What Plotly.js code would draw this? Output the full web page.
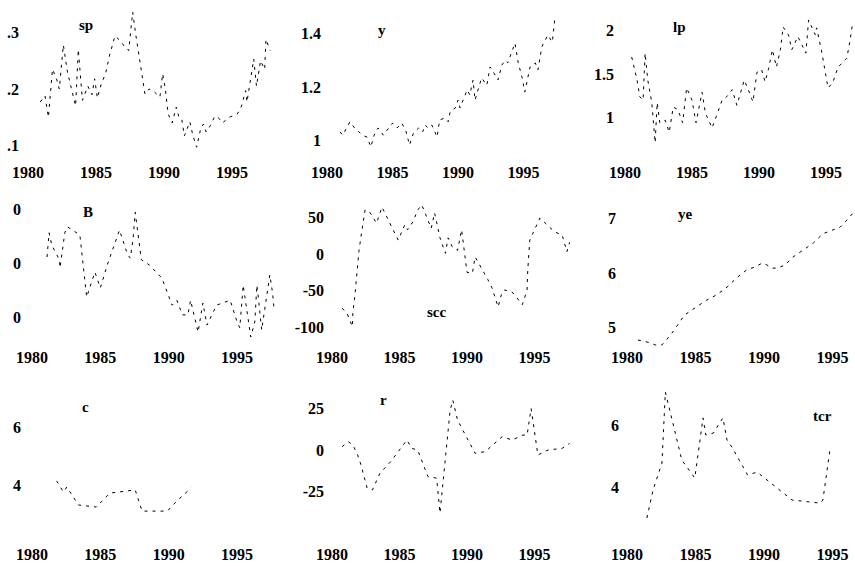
<!DOCTYPE html>
<html>
<head>
<meta charset="utf-8">
<script src="https://cdn.plot.ly/plotly-3.0.1.min.js"></script>
<style>html,body{margin:0;padding:0;background:#fff;}#chart{width:855px;height:566px;}</style>
</head>
<body>
<div id="chart"></div>
<script>
// ---------- data ----------
const seriesNames = ["sp", "y", "lp", "B", "scc", "ye", "c", "r", "tcr"];
const yearTicks = [1980, 1985, 1990, 1995];

const spYears = [1980.9,1981.25,1981.5,1981.8,1982.1,1982.3,1982.6,1982.9,1983.2,1983.5,1983.7,1984.0,1984.4,1984.7,1984.9,1985.1,1985.4,1985.7,1986.0,1986.4,1986.8,1987.1,1987.4,1987.6,1987.7,1987.9,1988.2,1988.6,1988.9,1989.2,1989.5,1989.7,1989.9,1990.1,1990.3,1990.6,1990.9,1991.1,1991.3,1991.5,1991.9,1992.1,1992.4,1992.7,1992.9,1993.1,1993.4,1993.7,1993.9,1994.3,1994.8,1995.4,1995.7,1996.0,1996.1,1996.4,1996.6,1996.8,1997.1,1997.4,1997.5,1997.8];
const spValues = [0.177,0.188,0.15,0.235,0.218,0.2,0.278,0.23,0.2,0.17,0.27,0.18,0.205,0.19,0.218,0.184,0.21,0.227,0.26,0.294,0.285,0.275,0.268,0.31,0.336,0.3,0.253,0.191,0.2,0.197,0.19,0.186,0.227,0.2,0.156,0.14,0.168,0.15,0.147,0.117,0.142,0.12,0.097,0.13,0.138,0.124,0.135,0.15,0.152,0.14,0.15,0.156,0.17,0.197,0.177,0.22,0.253,0.205,0.25,0.235,0.288,0.268];

const yYears = [1981.0,1981.2,1981.75,1982.1,1982.7,1983.05,1983.35,1983.6,1983.9,1984.3,1985.0,1985.35,1985.7,1986.0,1986.3,1986.6,1987.0,1987.3,1987.5,1987.7,1988.0,1988.4,1988.6,1989.0,1989.25,1989.4,1989.8,1990.0,1990.15,1990.7,1990.9,1991.15,1991.3,1991.8,1992.2,1992.45,1992.7,1993.05,1993.35,1993.6,1993.8,1994.1,1994.35,1994.6,1994.9,1995.1,1995.5,1995.9,1996.1,1996.4,1996.85,1997.2,1997.4];
const yValues = [1.032,1.02,1.07,1.047,1.02,1.013,0.976,1.02,1.047,1.02,1.065,1.047,1.065,1.04,0.983,1.028,1.047,1.032,1.058,1.047,1.058,1.013,1.077,1.084,1.07,1.107,1.122,1.151,1.122,1.189,1.17,1.226,1.151,1.234,1.207,1.275,1.256,1.226,1.282,1.3,1.29,1.331,1.364,1.29,1.234,1.181,1.275,1.29,1.264,1.35,1.394,1.368,1.458];

const lpYears = [1980.5,1980.75,1980.9,1981.1,1981.35,1981.5,1981.7,1982.0,1982.25,1982.4,1982.6,1983.0,1983.3,1983.6,1983.95,1984.3,1984.6,1985.0,1985.3,1985.75,1986.0,1986.5,1986.9,1987.25,1987.6,1988.0,1988.35,1988.7,1988.9,1989.2,1989.55,1989.85,1990.2,1990.45,1990.7,1991.0,1991.3,1991.6,1991.8,1992.2,1992.45,1992.9,1993.5,1993.7,1994.2,1994.3,1994.7,1995.15,1995.5,1995.9,1996.55,1996.8,1997.0];
const lpValues = [1.695,1.52,1.43,1.24,1.2,1.74,1.43,1.17,0.71,1.17,0.94,0.97,0.83,1.12,1.09,0.94,1.34,1.2,0.94,1.29,1.05,0.88,1.05,1.2,1.24,1.32,1.14,1.32,1.43,1.32,1.18,1.52,1.55,1.41,1.55,1.78,1.58,1.78,2.04,1.95,1.78,1.93,1.74,2.12,1.95,2.03,1.74,1.34,1.4,1.58,1.68,1.89,2.1];

const bYears = [1981.1,1981.25,1981.45,1982.0,1982.05,1982.4,1982.6,1983.5,1984.0,1984.6,1985.0,1985.5,1986.4,1986.7,1987.0,1987.2,1987.4,1987.55,1988.0,1988.6,1989.5,1990.25,1990.6,1991.0,1991.4,1991.6,1992.15,1992.5,1992.7,1992.8,1993.5,1994.5,1995.0,1995.2,1995.45,1996.0,1996.3,1996.45,1996.6,1996.8,1997.4,1997.6,1997.7];
const bValues = [0.11,0.56,0.33,0.06,-0.09,0.56,0.67,0.52,-0.63,-0.17,-0.46,-0.04,0.61,0.37,0.15,0.09,0.46,0.94,0.06,-0.04,-0.28,-0.78,-0.69,-0.96,-0.96,-0.69,-1.28,-0.74,-1.02,-1.15,-0.78,-0.69,-1.09,-1.2,-0.41,-1.37,-1.09,-0.41,-0.74,-1.24,-0.22,-0.56,-0.83];

const sccYears = [1980.75,1981.1,1981.5,1981.55,1981.7,1981.85,1982.0,1982.2,1982.45,1982.8,1983.3,1983.7,1984.9,1985.4,1985.6,1986.0,1986.35,1986.65,1987.0,1987.35,1987.6,1988.0,1988.4,1988.6,1988.9,1989.3,1989.6,1990.0,1990.4,1990.6,1991.55,1991.85,1992.3,1992.6,1992.8,1993.35,1994.1,1994.45,1994.5,1994.65,1995.4,1996.5,1997.05,1997.4,1997.6];
const sccValues = [-74,-80,-99,-79,-56,-19,5,30,60,57,42,64,19,40,33,44,60,67,50,35,56,22,1,22,10,5,33,-25,-26,-4,-35,-46,-72,-52,-49,-52,-69,-49,-22,19,49,30,26,3,16];

const yeYears = [1980.8,1981.7,1982.05,1982.55,1983.0,1983.35,1984.2,1984.95,1985.8,1986.55,1987.3,1988.0,1988.75,1989.35,1989.85,1990.2,1990.6,1991.0,1991.55,1992.1,1992.85,1993.6,1994.3,1995.05,1995.55,1996.05,1996.5];
const yeValues = [4.77,4.72,4.68,4.68,4.81,4.92,5.23,5.36,5.5,5.6,5.74,5.91,6.06,6.11,6.18,6.15,6.09,6.09,6.15,6.29,6.42,6.55,6.72,6.79,6.84,6.97,7.1];

const cYears = [1981.8,1982.3,1982.55,1983.4,1984.7,1985.7,1987.55,1988.05,1989.9,1990.6,1991.65];
const cValues = [4.14,3.76,3.93,3.31,3.24,3.72,3.83,3.1,3.1,3.45,3.9];

const rYears = [1980.75,1981.2,1981.55,1981.9,1982.15,1982.6,1983.0,1983.55,1984.35,1985.55,1985.9,1986.35,1987.1,1987.75,1988.0,1988.5,1988.75,1988.95,1989.3,1990.6,1991.35,1992.6,1993.35,1994.15,1994.45,1994.75,1995.25,1996.0,1997.05,1997.6];
const rValues = [2,5,3,-3,-9,-23,-24,-14,-7,6,1,0,-16,-17,-38,2,24,30,18,-2,-1,8,6,9,9,25,-3,0,1,4];

const tcrYears = [1981.45,1981.9,1982.55,1982.8,1984.0,1984.95,1985.3,1985.55,1985.75,1986.3,1987.0,1987.3,1987.65,1988.8,1989.5,1991.4,1992.05,1994.1,1994.3,1994.8];
const tcrValues = [3.0,3.9,4.77,7.06,4.87,4.29,5.42,6.23,5.68,5.74,6.23,5.52,5.29,4.39,4.48,3.81,3.58,3.48,3.58,5.16];

const spTickVals = [0.1, 0.2, 0.3];   const spTickText = [".1", ".2", ".3"];
const yTickVals = [1, 1.2, 1.4];      const yTickText = ["1", "1.2", "1.4"];
const lpTickVals = [1, 1.5, 2];       const lpTickText = ["1", "1.5", "2"];
const bTickVals = [-1, 0, 1];         const bTickText = ["0", "0", "0"];
const sccTickVals = [-100, -50, 0, 50]; const sccTickText = ["-100", "-50", "0", "50"];
const yeTickVals = [5, 6, 7];         const yeTickText = ["5", "6", "7"];
const cTickVals = [4, 6];             const cTickText = ["4", "6"];
const rTickVals = [-25, 0, 25];       const rTickText = ["-25", "0", "25"];
const tcrTickVals = [4, 6];           const tcrTickText = ["4", "6"];

// ---------- layout (pixel geometry) ----------
const W = 855, H = 566;
const panels = [
  {xs:spYears,  ys:spValues,  tv:spTickVals,  tt:spTickText,  px:[28,13.6,20,280],   py:[0.2,89,565,5,161],     lab:[86,25]},
  {xs:yYears,   ys:yValues,   tv:yTickVals,   tt:yTickText,   px:[327,13.1,322,570], py:[1.2,87,267.5,5,161],   lab:[382,30]},
  {xs:lpYears,  ys:lpValues,  tv:lpTickVals,  tt:lpTickText,  px:[625,13.4,615,855], py:[1.5,74,87,5,161],      lab:[679,27]},
  {xs:bYears,   ys:bValues,   tv:bTickVals,   tt:bTickText,   px:[32,13.67,22,282],  py:[0,263,54,190,346],     lab:[88,212]},
  {xs:sccYears, ys:sccValues, tv:sccTickVals, tt:sccTickText, px:[332,13.5,325,572], py:[0,254,0.734,190,346],  lab:[437,312]},
  {xs:yeYears,  ys:yeValues,  tv:yeTickVals,  tt:yeTickText,  px:[627,13.7,617,855], py:[6,273,54.5,190,346],   lab:[685,214]},
  {xs:cYears,   ys:cValues,   tv:cTickVals,   tt:cTickText,   px:[32,13.67,22,282],  py:[4,485,29,380,543],     lab:[85,407]},
  {xs:rYears,   ys:rValues,   tv:rTickVals,   tt:rTickText,   px:[332,13.5,325,572], py:[0,450,1.66,380,543],   lab:[383,400]},
  {xs:tcrYears, ys:tcrValues, tv:tcrTickVals, tt:tcrTickText, px:[627,13.7,620,855], py:[4,487,31,380,543],     lab:[822,416]}
];

const font = {family: "Liberation Serif, Times New Roman, serif", size: 16, color: "#000", weight: "bold"};
const traces = [];
const layout = {
  width: W, height: H, showlegend: false,
  margin: {l:0, r:0, t:0, b:0},
  paper_bgcolor: "#fff", plot_bgcolor: "#fff",
  font: font, annotations: []
};

panels.forEach((p, i) => {
  const n = i === 0 ? "" : String(i + 1);
  const [p1980, s, a, b] = p.px;
  const [v0, py0, k, top, bot] = p.py;
  traces.push({
    type: "scatter", mode: "lines", x: p.xs, y: p.ys,
    xaxis: "x" + n, yaxis: "y" + n,
    line: {color: "#000", width: 1, dash: "3px,5px"},
    hoverinfo: "skip"
  });
  layout["xaxis" + n] = {
    domain: [a / W, b / W],
    range: [1980 + (a - p1980) / s, 1980 + (b - p1980) / s],
    anchor: "y" + n, tickvals: yearTicks, ticktext: yearTicks.map(String),
    showgrid: false, zeroline: false, showline: false, ticks: "",
    tickfont: font, automargin: false, fixedrange: true
  };
  layout["yaxis" + n] = {
    domain: [1 - bot / H, 1 - top / H],
    range: [v0 - (bot - py0) / k, v0 + (py0 - top) / k],
    anchor: "x" + n, tickvals: p.tv, ticktext: p.tt,
    showgrid: false, zeroline: false, showline: false, ticks: "",
    tickfont: font, automargin: false, fixedrange: true
  };
  layout.annotations.push({
    text: seriesNames[i], xref: "paper", yref: "paper",
    x: p.lab[0] / W, y: 1 - p.lab[1] / H, showarrow: false,
    xanchor: "center", yanchor: "middle",
    font: {family: "Liberation Serif, serif", size: 15, color: "#000", weight: "bold"}
  });
});

Plotly.newPlot("chart", traces, layout, {displayModeBar: false, staticPlot: true});
</script>
</body>
</html>
